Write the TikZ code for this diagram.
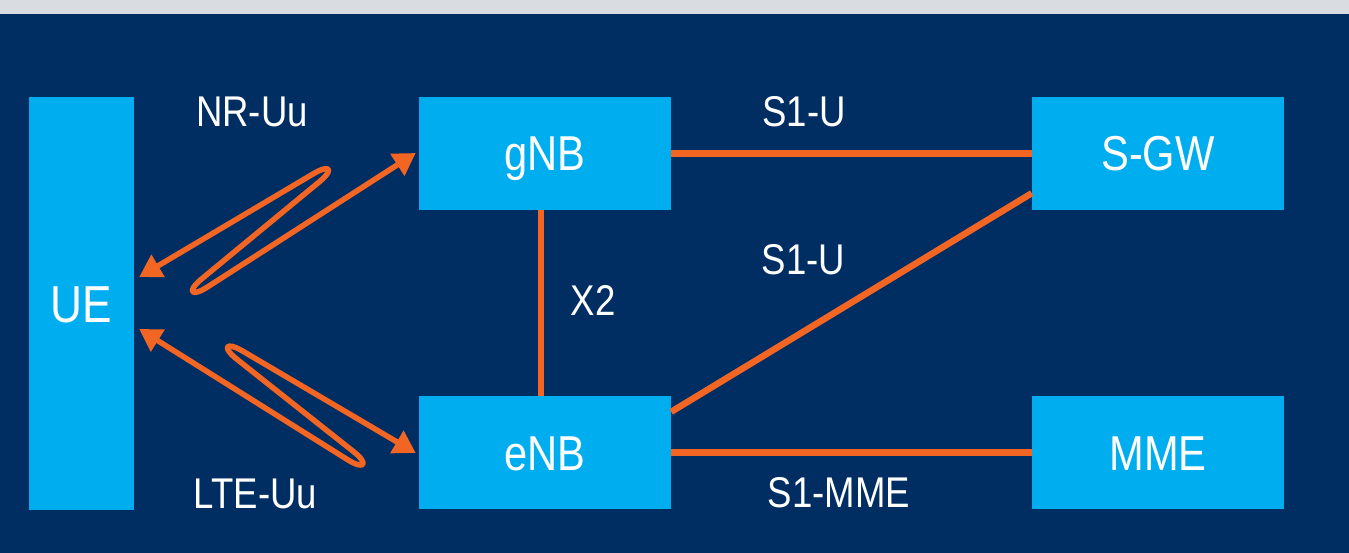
\documentclass[tikz,border=0pt]{standalone}
\usepackage{fontspec}
\setmainfont[FakeStretch=0.85]{Liberation Sans}
\usetikzlibrary{arrows.meta,calc}
\definecolor{navy}{HTML}{002D62}
\definecolor{band}{HTML}{D9DCE1}
\definecolor{boxblue}{HTML}{00ADEF}
\definecolor{link}{HTML}{F26522}

\begin{document}
\begin{tikzpicture}[x=1pt,y=-1pt,
  netbox/.style={fill=boxblue, draw=none, inner sep=0pt, text=white,
    font=\fontsize{49}{49}\selectfont, text height=35pt, text depth=0pt,
    minimum width=252pt, minimum height=113pt},
  iface/.style={text=white, font=\fontsize{43}{43}\selectfont, anchor=base, inner sep=0pt},
  wire/.style={draw=link, line width=6.5pt},
  radio/.style={draw=link, line width=5.5pt, line join=round,
    arrows={Triangle[length=22pt,width=25pt]-Triangle[length=22pt,width=25pt]}}
]
% background and top strip
\fill[navy] (0,0) rectangle (1349,553);
\fill[band] (0,0) rectangle (1349,14);
\useasboundingbox (0,0) rectangle (1349,553);

% network elements
\node[netbox, minimum width=105pt, minimum height=413pt,
      font=\fontsize{52}{52}\selectfont, text height=37pt] (ue) at (81.5,303.5) {UE};
\node[netbox] (gnb) at (545,153.5) {gNB};
\node[netbox] (enb) at (545,452.5) {eNB};
\node[netbox] (sgw) at (1158,153.5) {S-GW};
\node[netbox] (mme) at (1158,452.5) {MME};

% wired interfaces
\draw[wire] (gnb.east) -- (sgw.west);
\draw[wire] (enb.east) -- (mme.west);
\draw[wire] ($(enb.north east)+(0,16)$) -- ($(sgw.south west)+(0,-17)$);
\draw[wire] ($(gnb.south)+(-4,0)$) -- ($(enb.north)+(-4,0)$);

% radio links (zig-zag with looped bends)
\coordinate (nr-ue)   at ($(ue.east)+(5,-26.5)$);
\coordinate (nr-gnb)  at ($(gnb.west)+(-3,-0.5)$);
\coordinate (lte-ue)  at ($(ue.east)+(5,25.5)$);
\coordinate (lte-enb) at ($(enb.west)+(-3,0.5)$);

\draw[radio] (nr-ue) -- (313.1,173.9)
  .. controls (330.3,163.7) and (334.5,169.3) .. (319.1,182) -- (201.7,278.9)
  .. controls (186.3,291.6) and (191,297.6) .. (207.8,286.8) -- (nr-gnb);
\draw[radio] (lte-ue) -- (347.6,459.7)
  .. controls (364.5,470.3) and (369.2,464) .. (353.5,451.6) -- (237.1,359.4)
  .. controls (221.4,347) and (225.7,341.1) .. (242.9,351.2) -- (lte-enb);

% interface labels
\node[iface] (nr-lbl)    at (252,127)   {NR-Uu};
\node[iface] (s1u-top)   at (804,127)   {S1-U};
\node[iface] (s1u-mid)   at (803.5,275) {S1-U};
\node[iface] (x2-lbl)    at (593,316)   {X2};
\node[iface] (lte-lbl)   at (255.5,508) {LTE-Uu};
\node[iface] (s1mme-lbl) at (839,507)   {S1-MME};
\end{tikzpicture}
\end{document}
